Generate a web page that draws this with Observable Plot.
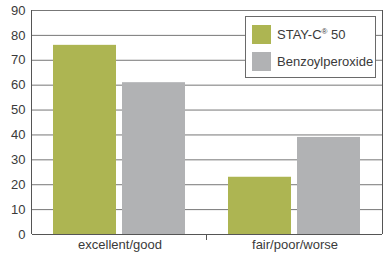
<!DOCTYPE html>
<html><head><meta charset="utf-8">
<script src="https://cdn.jsdelivr.net/npm/d3@7"></script>
<script src="https://cdn.jsdelivr.net/npm/@observablehq/plot@0.6"></script>
<style>
body{margin:0;background:#fff;font-family:"Liberation Sans",Arial,sans-serif;}
#wrap{position:relative;width:392px;height:260px;}
.legend{position:absolute;left:245px;top:16px;width:129px;height:60px;border:1px solid #6a6a6a;background:#fff;font-size:13px;color:#3a3a3a;box-sizing:content-box;}
.item{position:absolute;left:6px;height:19px;display:flex;align-items:center;white-space:nowrap;}
.sw{width:19px;height:19px;margin-right:6px;flex:none;}
sup{font-size:8px;vertical-align:5px;line-height:0;}
</style></head><body><div id="wrap"></div>
<script>
const categories = ["excellent/good", "fair/poor/worse"];
const series = ["STAY-C® 50", "Benzoylperoxide"];
const stayValues = [76, 23];
const benzoylValues = [61, 39];
const yTicks = [0, 10, 20, 30, 40, 50, 60, 70, 80, 90];
const colors = ["#adb552", "#b1b2b4"];

const data = categories.flatMap((c, i) => [
  {cat: c, series: series[0], value: stayValues[i]},
  {cat: c, series: series[1], value: benzoylValues[i]}
]);

const plot = Plot.plot({
  width: 392, height: 260,
  marginLeft: 31, marginRight: 10, marginTop: 10, marginBottom: 26,
  style: {fontFamily: "'Liberation Sans', Arial, sans-serif", fontSize: "13px", color: "#3a3a3a", background: "#fff"},
  fx: {domain: categories, padding: 0, label: null, tickSize: 0, tickPadding: 5, axis: "bottom"},
  x: {domain: series, axis: null, paddingInner: 0.086, paddingOuter: 0.295},
  y: {domain: [0, 90], ticks: yTicks, tickSize: 0, tickPadding: 7, label: null},
  color: {domain: series, range: colors},
  marks: [
    Plot.ruleY(yTicks, {stroke: "#777"}),
    Plot.barY(data, {fx: "cat", x: "series", y: "value", fill: "series"}),
    Plot.ruleY([0], {stroke: "#555"})
  ]
});

document.getElementById("wrap").appendChild(plot);

// frame lines and category boundary tick, derived from the plot's scales
const fxS = plot.scale("fx");
const yS = plot.scale("y");
const band = d3.scaleBand().domain(fxS.domain).range(fxS.range).padding(0);
const yPos = v => yS.apply ? yS.apply(v) : d3.scaleLinear().domain(yS.domain).range(yS.range)(v);
const svg = d3.select(plot.tagName.toLowerCase() === "svg" ? plot : plot.querySelector("svg"));
const g = svg.append("g").attr("stroke", "#555").attr("shape-rendering", "crispEdges");
const y0 = yPos(0), yTop = yPos(90);
const left = fxS.range[0], right = fxS.range[1];
g.append("line").attr("x1", left).attr("x2", left).attr("y1", yTop).attr("y2", y0);
g.append("line").attr("x1", right).attr("x2", right).attr("y1", yTop).attr("y2", y0);
const boundary = band(categories[1]);
g.append("line").attr("x1", boundary).attr("x2", boundary).attr("y1", y0).attr("y2", y0 + 6);

// legend
const legend = document.createElement("div");
legend.className = "legend";
series.forEach((s, i) => {
  const it = document.createElement("div");
  it.className = "item";
  it.style.top = (8 + i * 27) + "px";
  const sw = document.createElement("span");
  sw.className = "sw";
  sw.style.background = colors[i];
  const tx = document.createElement("span");
  if (s.includes("®")) {
    const parts = s.split("®");
    tx.appendChild(document.createTextNode(parts[0]));
    const sup = document.createElement("sup");
    sup.textContent = "®";
    tx.appendChild(sup);
    tx.appendChild(document.createTextNode(parts[1]));
  } else tx.textContent = s;
  it.appendChild(sw); it.appendChild(tx);
  legend.appendChild(it);
});
document.getElementById("wrap").appendChild(legend);
</script></body></html>
